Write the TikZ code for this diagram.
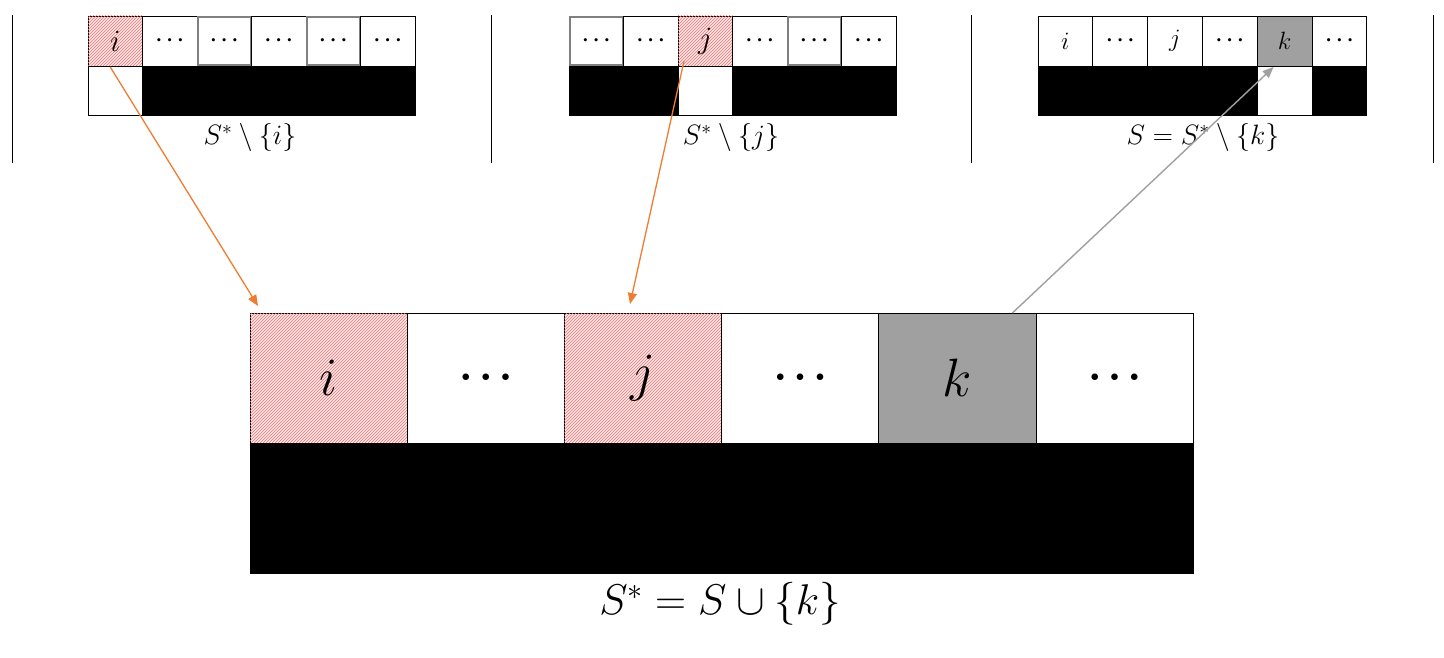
\RequirePackage{fix-cm}
\documentclass[tikz,border=0pt]{standalone}
\usetikzlibrary{patterns,arrows.meta,calc}
\definecolor{arrorange}{HTML}{ED7D31}
\definecolor{kgray}{HTML}{A0A0A0}
\definecolor{hatchbg}{HTML}{FCE6E6}
\definecolor{hatchline}{HTML}{E87878}
\newcommand{\bigdots}{$\bullet\mkern8mu\bullet\mkern8mu\bullet$}
\begin{document}
\begin{tikzpicture}[x=1pt,y=-1pt,
  basecell/.style={draw=black, line width=0.8pt, anchor=north west, inner sep=0pt, outer sep=0pt},
  scell/.style={basecell, minimum width=54.5pt, minimum height=50pt, font=\fontsize{31}{34}\selectfont},
  sbot/.style={basecell, minimum width=54.5pt, minimum height=49pt},
  bcell/.style={basecell, minimum width=157.2pt, minimum height=130pt, font=\fontsize{54}{60}\selectfont},
  bbot/.style={basecell, fill=black, minimum width=943pt, minimum height=130pt},
  hatch/.style={fill=hatchbg, postaction={pattern=north east lines, pattern color=hatchline}},
  kcell/.style={fill=kgray},
  blk/.style={fill=black},
  greyrim/.style={draw=gray, line width=1.6pt},
  sdots/.style={font=\fontsize{21}{24}\selectfont\boldmath},
  bdots/.style={font=\fontsize{17}{20}\selectfont},
  tletter/.style={font=\fontsize{25}{30}\selectfont},
  slabel/.style={font=\fontsize{28}{32}\selectfont, inner sep=0pt},
  blabel/.style={font=\fontsize{43}{50}\selectfont, inner sep=0pt},
  sep/.style={draw=black, line width=0.9pt},
  orangearrow/.style={draw=arrorange, line width=1.3pt, -{Triangle[length=11pt,width=9pt]}},
  grayarrow/.style={draw=kgray, line width=1.4pt, -{Triangle[length=11pt,width=9pt]}}
]
\useasboundingbox (0,0) rectangle (1444,658);

% separators
\draw[sep] (12,15) -- (12,163);
\draw[sep] (491,15) -- (491,163);
\draw[sep] (971,15) -- (971,163);
\draw[sep] (1433,15) -- (1433,163);

% ---------- panel 1 ----------
\node[scell,hatch] (p1c1) at (88,16) {$i$};
\node[scell,sdots] (p1c2) at (142.5,16) {$\cdots$};
\node[scell,sdots] (p1c3) at (197,16) {$\cdots$};
\node[scell,sdots] (p1c4) at (251.5,16) {$\cdots$};
\node[scell,sdots] (p1c5) at (306,16) {$\cdots$};
\node[scell,sdots] (p1c6) at (360.5,16) {$\cdots$};
\draw[greyrim] ($(p1c3.north west)+(1.2,1.2)$) rectangle ($(p1c3.south east)+(-1.2,-1.2)$);
\draw[greyrim] ($(p1c5.north west)+(1.2,1.2)$) rectangle ($(p1c5.south east)+(-1.2,-1.2)$);
\node[sbot] (p1d1) at (88,66) {};
\node[sbot,blk] (p1d2) at (142.5,66) {};
\node[sbot,blk] (p1d3) at (197,66) {};
\node[sbot,blk] (p1d4) at (251.5,66) {};
\node[sbot,blk] (p1d5) at (306,66) {};
\node[sbot,blk] (p1d6) at (360.5,66) {};
\node[slabel] (l1) at (250,138) {$S^{*}\setminus\{i\}$};

% ---------- panel 2 ----------
\node[scell,sdots] (p2c1) at (569,16) {$\cdots$};
\node[scell,sdots] (p2c2) at (623.5,16) {$\cdots$};
\node[scell,hatch] (p2c3) at (678,16) {$j$};
\node[scell,sdots] (p2c4) at (732.5,16) {$\cdots$};
\node[scell,sdots] (p2c5) at (787,16) {$\cdots$};
\node[scell,sdots] (p2c6) at (841.5,16) {$\cdots$};
\draw[greyrim] ($(p2c1.north west)+(1.2,1.2)$) rectangle ($(p2c1.south east)+(-1.2,-1.2)$);
\draw[greyrim] ($(p2c5.north west)+(1.2,1.2)$) rectangle ($(p2c5.south east)+(-1.2,-1.2)$);
\node[sbot,blk] (p2d1) at (569,66) {};
\node[sbot,blk] (p2d2) at (623.5,66) {};
\node[sbot] (p2d3) at (678,66) {};
\node[sbot,blk] (p2d4) at (732.5,66) {};
\node[sbot,blk] (p2d5) at (787,66) {};
\node[sbot,blk] (p2d6) at (841.5,66) {};
\node[slabel] (l2) at (731,138) {$S^{*}\setminus\{j\}$};

% ---------- panel 3 ----------
\node[scell,minimum width=54.8pt,tletter] (p3c1) at (1038,16) {$i$};
\node[scell,minimum width=54.8pt,sdots] (p3c2) at (1092.8,16) {$\cdots$};
\node[scell,minimum width=54.8pt,tletter] (p3c3) at (1147.6,16) {$j$};
\node[scell,minimum width=54.8pt,sdots] (p3c4) at (1202.4,16) {$\cdots$};
\node[scell,minimum width=54.8pt,kcell,tletter] (p3c5) at (1257.2,16) {$k$};
\node[scell,minimum width=54.8pt,sdots] (p3c6) at (1312,16) {$\cdots$};
\node[sbot,minimum width=54.8pt,blk] (p3d1) at (1038,66) {};
\node[sbot,minimum width=54.8pt,blk] (p3d2) at (1092.8,66) {};
\node[sbot,minimum width=54.8pt,blk] (p3d3) at (1147.6,66) {};
\node[sbot,minimum width=54.8pt,blk] (p3d4) at (1202.4,66) {};
\node[sbot,minimum width=54.8pt] (p3d5) at (1257.2,66) {};
\node[sbot,minimum width=54.8pt,blk] (p3d6) at (1312,66) {};
\node[slabel] (l3) at (1203,138) {$S=S^{*}\setminus\{k\}$};

% ---------- big array ----------
\node[bcell,hatch] (b1) at (250,313) {$i$};
\node[bcell,bdots] (b2) at (407.2,313) {\bigdots};
\node[bcell,hatch] (b3) at (564.4,313) {$j$};
\node[bcell,bdots] (b4) at (721.6,313) {\bigdots};
\node[bcell,kcell] (b5) at (878.8,313) {$k$};
\node[bcell,bdots] (b6) at (1036,313) {\bigdots};
\node[bbot] (bb) at (250,443) {};
\node[blabel] (lb) at (720,604) {$S^{*}=S\cup\{k\}$};

% ---------- arrows ----------
\draw[orangearrow] ($(p1c1.south)+(-5,1)$) -- ($(b1.north west)+(8,-7)$);
\draw[orangearrow] ($(p2c3.south west)+(6,-5)$) -- ($(b3.north)+(-13,-9)$);
\draw[grayarrow] ($(b5.north)+(55,0)$) -- ($(p3c5.south)+(-11,1)$);
\end{tikzpicture}
\end{document}
